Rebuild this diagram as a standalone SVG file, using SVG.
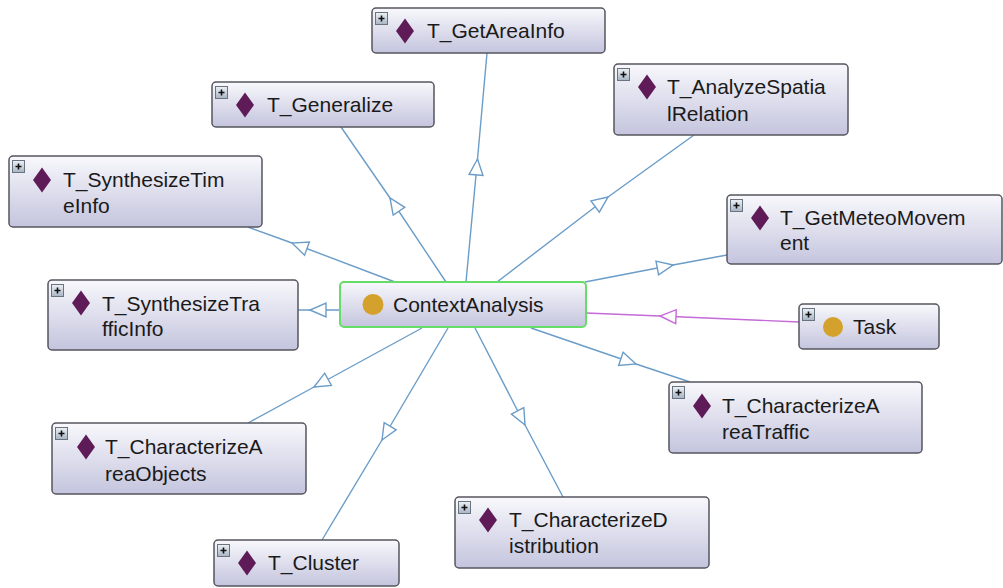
<svg xmlns="http://www.w3.org/2000/svg" width="1003" height="588" viewBox="0 0 1003 588">
<defs>
<linearGradient id="bg" x1="0" y1="0" x2="0" y2="1">
<stop offset="0" stop-color="#f8f8fc"/>
<stop offset="1" stop-color="#c4c4de"/>
</linearGradient>
<linearGradient id="pg" x1="0" y1="0" x2="0" y2="1">
<stop offset="0" stop-color="#eef2f6"/>
<stop offset="1" stop-color="#a8b4c4"/>
</linearGradient>
<marker id="ab" viewBox="-18 -9 20 18" refX="0" refY="0" markerWidth="20" markerHeight="18" markerUnits="userSpaceOnUse" orient="auto">
<path d="M0,0 L-16,-7 L-16,7 Z" fill="#fff" stroke="#6b9dc8" stroke-width="1.4"/>
</marker>
<marker id="ap" viewBox="-18 -9 20 18" refX="0" refY="0" markerWidth="20" markerHeight="18" markerUnits="userSpaceOnUse" orient="auto">
<path d="M0,0 L-16,-7 L-16,7 Z" fill="#fff" stroke="#c56ad8" stroke-width="1.4"/>
</marker>
<g id="plus">
<rect x="0.5" y="0.5" width="12" height="12" fill="url(#pg)" stroke="#6a7380" stroke-width="1"/>
<path d="M3.5,6.5 H9.5 M6.5,3.5 V9.5" stroke="#111" stroke-width="1.6"/>
</g>
<path id="dia" d="M0,-12.5 L9,0 L0,12.5 L-9,0 Z" fill="#5e1b58"/>
</defs>
<style>
.box{fill:url(#bg);stroke:#55555f;stroke-width:1.5}
.main{fill:url(#bg);stroke:#66dd66;stroke-width:2}
.t{font-family:"Liberation Sans",Arial,sans-serif;font-size:21px;fill:#1a1a1a}
.e{fill:none;stroke:#6b9dc8;stroke-width:1.4;marker-mid:url(#ab)}
.p{fill:none;stroke:#c56ad8;stroke-width:1.4;marker-mid:url(#ap)}
.c{fill:#d4a22c}
</style>
<rect width="1003" height="588" fill="#fff"/>
<g id="connectors">
<polyline class="e" points="466,282 477.5,159 487,53"/>
<polyline class="e" points="446,282 390,198 341,127"/>
<polyline class="e" points="497,282 608,197 694,135"/>
<polyline class="e" points="395,282 292,243 248,227"/>
<polyline class="e" points="585,282 673,265 727,255"/>
<polyline class="p" points="799,322 660,316 586,313"/>
<polyline class="e" points="340,310 310,310 298,310"/>
<polyline class="e" points="422,328 314,387 248,423"/>
<polyline class="e" points="448,328 382,440 322,540"/>
<polyline class="e" points="475,328 525,425 563,497"/>
<polyline class="e" points="531,328 636,364 690,382"/>
</g>
<g id="n-GetAreaInfo">
<rect class="box" x="372" y="8" width="233" height="45" rx="4"/>
<use href="#plus" x="375" y="12"/>
<use href="#dia" x="405" y="31"/>
<text class="t" x="427" y="38">T_GetAreaInfo</text>
</g>
<g id="n-Generalize">
<rect class="box" x="212" y="82" width="222" height="45" rx="4"/>
<use href="#plus" x="215" y="86"/>
<use href="#dia" x="245" y="105"/>
<text class="t" x="267" y="112">T_Generalize</text>
</g>
<g id="n-AnalyzeSpatialRelation">
<rect class="box" x="614" y="64" width="234" height="71" rx="4"/>
<use href="#plus" x="617" y="68"/>
<use href="#dia" x="647" y="87"/>
<text class="t" x="667" y="94">T_AnalyzeSpatia</text>
<text class="t" x="667" y="121">lRelation</text>
</g>
<g id="n-SynthesizeTimeInfo">
<rect class="box" x="9" y="156" width="253" height="71" rx="4"/>
<use href="#plus" x="12" y="160"/>
<use href="#dia" x="42" y="180"/>
<text class="t" x="63" y="187">T_SynthesizeTim</text>
<text class="t" x="63" y="213">eInfo</text>
</g>
<g id="n-GetMeteoMovement">
<rect class="box" x="727" y="195" width="275" height="69" rx="4"/>
<use href="#plus" x="730" y="199"/>
<use href="#dia" x="760" y="218"/>
<text class="t" x="780" y="225">T_GetMeteoMovem</text>
<text class="t" x="780" y="250">ent</text>
</g>
<g id="n-SynthesizeTrafficInfo">
<rect class="box" x="48" y="280" width="250" height="70" rx="4"/>
<use href="#plus" x="51" y="284"/>
<use href="#dia" x="81" y="303"/>
<text class="t" x="102" y="311">T_SynthesizeTra</text>
<text class="t" x="102" y="336">fficInfo</text>
</g>
<g id="n-ContextAnalysis">
<rect class="main" x="340" y="282" width="246" height="45" rx="4"/>
<circle class="c" cx="373" cy="304.5" r="10.5"/>
<text class="t" x="393" y="311.5">ContextAnalysis</text>
</g>
<g id="n-Task">
<rect class="box" x="799" y="304" width="140" height="45" rx="4"/>
<use href="#plus" x="802" y="308"/>
<circle class="c" cx="833" cy="327" r="10"/>
<text class="t" x="853" y="334">Task</text>
</g>
<g id="n-CharacterizeAreaTraffic">
<rect class="box" x="669" y="382" width="253" height="71" rx="4"/>
<use href="#plus" x="672" y="386"/>
<use href="#dia" x="702" y="406"/>
<text class="t" x="722" y="413">T_CharacterizeA</text>
<text class="t" x="722" y="439">reaTraffic</text>
</g>
<g id="n-CharacterizeAreaObjects">
<rect class="box" x="52" y="423" width="254" height="71" rx="4"/>
<use href="#plus" x="55" y="427"/>
<use href="#dia" x="86" y="447"/>
<text class="t" x="105" y="454">T_CharacterizeA</text>
<text class="t" x="105" y="481">reaObjects</text>
</g>
<g id="n-CharacterizeDistribution">
<rect class="box" x="455" y="497" width="254" height="71" rx="4"/>
<use href="#plus" x="458" y="501"/>
<use href="#dia" x="488" y="520"/>
<text class="t" x="509" y="527">T_CharacterizeD</text>
<text class="t" x="509" y="553">istribution</text>
</g>
<g id="n-Cluster">
<rect class="box" x="214" y="540" width="185" height="46" rx="4"/>
<use href="#plus" x="217" y="544"/>
<use href="#dia" x="247" y="563"/>
<text class="t" x="268" y="570">T_Cluster</text>
</g>
</svg>
